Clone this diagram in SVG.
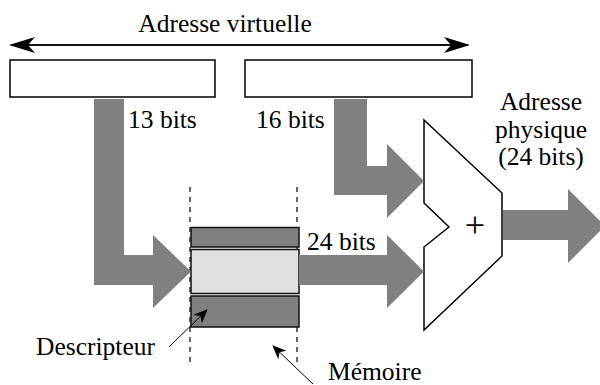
<svg xmlns="http://www.w3.org/2000/svg" width="600" height="385" viewBox="0 0 600 385">
  <defs>
    <style>
      .field { fill: #fff; stroke: #000; stroke-width: 1.5; }
      .bus { fill: #808080; stroke: none; }
      .mem-dark { fill: #808080; stroke: #111; stroke-width: 1.5; }
      .mem-light { fill: #e0e0e0; stroke: #111; stroke-width: 1.5; }
      .guide { stroke: #000; stroke-width: 1.2; stroke-dasharray: 5 5; fill: none; }
      .pointer { stroke: #000; stroke-width: 1; fill: none; }
    </style>
    <marker id="head-big" viewBox="0 0 26 16" refX="24" refY="8" markerWidth="26" markerHeight="16" markerUnits="userSpaceOnUse" orient="auto">
      <path d="M0,0 L26,8 L0,16 L7,8 Z" fill="#000"/>
    </marker>
    <marker id="head-small" viewBox="0 0 14 12" refX="13" refY="6" markerWidth="14" markerHeight="12" markerUnits="userSpaceOnUse" orient="auto">
      <path d="M0,0 L14,6 L0,12 L4,6 Z" fill="#000"/>
    </marker>
  </defs>
  <rect width="600" height="385" fill="#fff"/>

  <g font-family="Liberation Serif, DejaVu Serif, serif" font-size="25.5" fill="#000">
    <!-- virtual address span -->
    <g id="virtual-address">
      <line x1="20" y1="45" x2="468" y2="45" stroke="#000" stroke-width="1.5" marker-end="url(#head-big)"/>
      <line x1="460" y1="45" x2="11" y2="45" stroke="#000" stroke-width="1.5" marker-end="url(#head-big)"/>
      <text x="225" y="32" text-anchor="middle">Adresse virtuelle</text>
    </g>

    <!-- address fields -->
    <g id="field-segment">
      <rect class="field" x="10" y="60" width="205" height="37"/>
    </g>
    <g id="field-offset">
      <rect class="field" x="245" y="60" width="227" height="37"/>
    </g>

    <!-- memory column -->
    <g id="memory">
      <line class="guide" x1="190" y1="187" x2="190" y2="367"/>
      <line class="guide" x1="297" y1="187" x2="297" y2="367"/>
      <rect class="mem-dark" x="191" y="227.5" width="108" height="19.5"/>
      <rect class="mem-light" x="191" y="249.5" width="108" height="44"/>
      <rect class="mem-dark" x="191" y="296" width="108" height="31"/>
    </g>

    <!-- adder -->
    <g id="adder">
      <polygon points="424,120 502,193 502,256 424,330 424,247 449,227 424,203" fill="#fff" stroke="#000" stroke-width="1.5"/>
      <text x="475" y="237" text-anchor="middle" font-size="36">+</text>
    </g>

    <!-- data paths -->
    <g id="connectors">
      <polygon class="bus" points="94,99 124,99 124,255 153,255 153,235 191,271.5 153,308 153,285 94,285"/>
      <polygon class="bus" points="334,99 367,99 367,166 387,166 387,144 424,181 387,218 387,195 334,195"/>
      <polygon class="bus" points="299,255 387,255 387,235 424,271.5 387,308 387,285 299,285"/>
      <polygon class="bus" points="503,210 568,210 568,189 605,226 568,263 568,240 503,240"/>
      <line class="pointer" x1="169" y1="347" x2="207" y2="310" marker-end="url(#head-small)"/>
      <line class="pointer" x1="313" y1="384" x2="273" y2="346" marker-end="url(#head-small)"/>
    </g>

    <!-- labels -->
    <g id="labels">
      <text x="128" y="128">13 bits</text>
      <text x="256" y="128">16 bits</text>
      <text x="307" y="250">24 bits</text>
      <text x="541" y="110" text-anchor="middle">Adresse</text>
      <text x="541" y="138" text-anchor="middle">physique</text>
      <text x="541" y="165" text-anchor="middle">(24 bits)</text>
      <text x="36" y="355">Descripteur</text>
      <text x="328" y="379.5">Mémoire</text>
    </g>
  </g>
</svg>
